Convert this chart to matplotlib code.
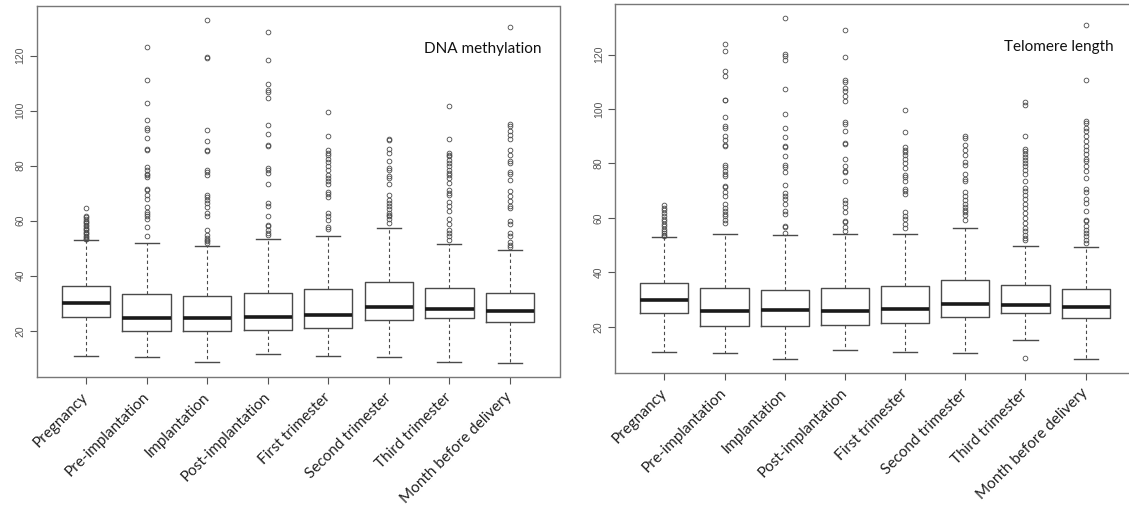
import matplotlib.pyplot as plt

categories = ["Pregnancy", "Pre-implantation", "Implantation", "Post-implantation",
              "First trimester", "Second trimester", "Third trimester",
              "Month before delivery"]

# DNA methylation panel: box summaries
dna_lo = [10.9, 10.5, 8.6, 11.7, 10.9, 10.5, 8.8, 8.2]
dna_q1 = [25.0, 20.0, 20.0, 20.2, 21.0, 24.0, 24.8, 23.2]
dna_med = [30.1, 24.8, 24.6, 25.1, 25.8, 28.8, 28.0, 27.3]
dna_q3 = [36.1, 33.5, 32.7, 33.7, 35.2, 37.6, 35.7, 33.7]
dna_hi = [52.8, 51.9, 50.7, 53.3, 54.3, 57.2, 51.6, 49.2]
dna_out = [
    [64.6, 61.8, 61.2, 60.5, 60.0, 59.5, 59.0, 58.5, 58.0, 57.5, 57.0, 56.5,
     56.0, 55.5, 55.0, 54.5, 54.0, 53.5, 53.2],
    [123.2, 111.0, 102.7, 96.7, 93.7, 92.8, 90.0, 86.2, 85.8, 79.4, 78.5, 77.1,
     76.5, 75.8, 71.6, 71.0, 69.5, 67.9, 65.0, 63.3, 62.4, 61.6, 60.6, 57.7, 54.3],
    [133.0, 119.5, 119.2, 92.8, 89.1, 85.8, 85.3, 78.5, 77.7, 76.5, 69.5, 68.6,
     67.6, 66.4, 65.0, 62.8, 61.8, 56.7, 54.9, 53.7, 53.1, 52.5, 51.9],
    [128.5, 118.5, 109.8, 107.6, 106.8, 104.4, 94.7, 91.5, 87.4, 87.0, 79.2, 78.3,
     77.3, 73.3, 66.4, 65.5, 61.7, 58.5, 57.9, 56.7, 55.5, 54.7],
    [99.4, 90.9, 85.6, 84.6, 83.8, 82.5, 81.3, 79.8, 78.3, 76.5, 75.5, 74.3, 73.5,
     70.3, 69.7, 68.5, 62.8, 61.6, 60.1, 57.7, 57.0],
    [89.7, 89.2, 86.2, 84.6, 81.8, 79.2, 78.5, 76.1, 75.5, 73.5, 69.5, 67.6, 66.4,
     65.2, 64.2, 62.8, 62.2, 61.6, 60.6, 59.2],
    [101.8, 89.7, 84.6, 84.0, 83.4, 82.2, 81.0, 79.8, 78.5, 77.3, 76.5, 75.5, 73.7,
     71.0, 70.0, 69.2, 66.8, 65.2, 63.4, 60.6, 58.9, 56.7, 55.5, 54.5, 53.1],
    [130.4, 95.3, 94.5, 92.5, 91.3, 89.7, 85.8, 84.0, 81.8, 81.0, 77.7, 77.1, 74.9,
     70.6, 69.1, 67.0, 65.2, 64.6, 60.0, 58.9, 55.5, 54.3, 52.1, 51.3, 50.4],
]

# Telomere length panel
tel_lo = [10.7, 10.2, 8.2, 11.4, 10.7, 10.2, 15.1, 8.0]
tel_q1 = [25.0, 20.4, 20.4, 20.5, 21.3, 23.6, 25.0, 23.2]
tel_med = [29.9, 25.6, 26.3, 25.9, 26.5, 28.5, 27.8, 27.2]
tel_q3 = [36.1, 34.2, 33.6, 34.1, 35.1, 37.3, 35.3, 33.8]
tel_hi = [53.0, 54.2, 53.6, 54.2, 54.2, 56.4, 49.5, 49.3]
tel_out = [
    [64.9, 63.6, 62.8, 61.8, 60.6, 59.6, 58.7, 57.9, 56.9, 55.9, 55.0, 54.4,
     53.6, 53.2],
    [123.9, 121.2, 113.9, 112.0, 103.5, 103.2, 97.1, 93.9, 93.0, 90.2, 88.8, 86.7,
     86.3, 79.3, 78.6, 77.1, 76.3, 75.3, 71.8, 71.3, 69.4, 67.9, 65.2, 63.6, 62.4,
     61.5, 60.6, 59.3, 58.1],
    [133.6, 120.2, 119.6, 117.9, 107.4, 98.3, 93.2, 89.6, 86.3, 86.0, 82.6, 79.6,
     78.6, 76.9, 72.2, 69.1, 68.2, 67.1, 65.2, 62.4, 61.5, 57.1, 56.5, 54.6],
    [129.2, 119.3, 110.6, 110.0, 107.7, 106.5, 104.7, 102.8, 95.1, 94.6, 91.8, 87.5,
     87.2, 81.6, 78.9, 77.4, 76.7, 73.4, 66.7, 65.5, 64.0, 62.0, 59.0, 58.4, 56.5,
     55.0],
    [99.8, 91.4, 85.9, 85.1, 84.1, 83.0, 81.6, 80.2, 78.3, 75.9, 74.9, 73.4, 70.6,
     70.0, 68.8, 62.2, 60.8, 59.6, 57.7, 56.2],
    [90.0, 89.4, 86.7, 84.8, 83.0, 80.4, 79.6, 76.3, 74.4, 73.4, 69.4, 67.9, 66.4,
     65.2, 64.0, 63.0, 62.0, 61.2, 59.3],
    [102.6, 101.4, 90.0, 85.3, 84.5, 83.5, 82.4, 81.2, 80.2, 79.0, 77.5, 76.3, 73.4,
     71.0, 70.0, 68.5, 66.9, 65.2, 63.6, 61.8, 60.0, 58.1, 56.3, 55.0, 53.8, 52.5,
     51.7, 8.6],
    [131.0, 110.8, 95.5, 94.9, 93.0, 91.8, 90.0, 88.1, 86.3, 85.1, 83.6, 81.8, 80.8,
     78.9, 77.4, 74.7, 70.7, 69.4, 66.9, 65.5, 62.4, 59.3, 58.7, 56.9, 55.7, 54.4,
     53.2, 52.0, 50.8],
]


def draw_panel(ax, lo, q1, med, q3, hi, out, title, title_x):
    stats = []
    for i in range(len(categories)):
        stats.append({"whislo": lo[i], "q1": q1[i], "med": med[i], "q3": q3[i],
                      "whishi": hi[i], "fliers": out[i]})
    ax.bxp(stats, positions=range(1, len(categories) + 1), widths=0.8,
           showfliers=True,
           boxprops=dict(color="#4a4a4a", linewidth=1.0),
           medianprops=dict(color="#1a1a1a", linewidth=2.6, solid_capstyle="butt"),
           whiskerprops=dict(color="#4a4a4a", linewidth=0.8, linestyle=(0, (3, 2.5))),
           capprops=dict(color="#4a4a4a", linewidth=1.0),
           capwidths=0.4,
           flierprops=dict(marker="o", markersize=3.4, markerfacecolor="none",
                           markeredgecolor="#4a4a4a", markeredgewidth=0.6))

    # R style limits: 4% padding around the data
    all_vals = lo + hi + [v for o in out for v in o]
    vmin, vmax = min(all_vals), max(all_vals)
    pad = (vmax - vmin) * 0.04
    ax.set_ylim(vmin - pad, vmax + pad)
    ax.set_xlim(0.5 - 0.32, len(categories) + 0.5 + 0.32)

    ax.set_yticks([20, 40, 60, 80, 100, 120])
    ax.set_yticklabels(["20", "40", "60", "80", "100", "120"], rotation=90,
                       va="center", fontsize=7.5, color="#555555",
                       family="Liberation Sans")
    ax.set_xticks(range(1, len(categories) + 1))
    ax.set_xticklabels(categories, rotation=45, ha="right", va="center",
                       rotation_mode="anchor", fontsize=11, family="Lato",
                       color="#222222")
    ax.tick_params(axis="both", length=5, width=0.8, color="#555555")
    ax.tick_params(axis="x", pad=8)
    ax.tick_params(axis="y", pad=3)
    for s in ax.spines.values():
        s.set_color("#777777")
        s.set_linewidth(1.0)

    ax.text(title_x, 0.884, title, transform=ax.transAxes, ha="right",
            va="center", fontsize=11, family="Lato", color="#111111")


fig = plt.figure(figsize=(11.29, 5.12), dpi=100)
ax1 = fig.add_axes([36.5 / 1129, 135 / 512, 523 / 1129, 371 / 512])
ax2 = fig.add_axes([615 / 1129, 139 / 512, 520 / 1129, 369 / 512])

draw_panel(ax1, dna_lo, dna_q1, dna_med, dna_q3, dna_hi, dna_out,
           "DNA methylation", 0.965)
draw_panel(ax2, tel_lo, tel_q1, tel_med, tel_q3, tel_hi, tel_out,
           "Telomere length", 0.958)

fig.savefig("out.png", dpi=100)
